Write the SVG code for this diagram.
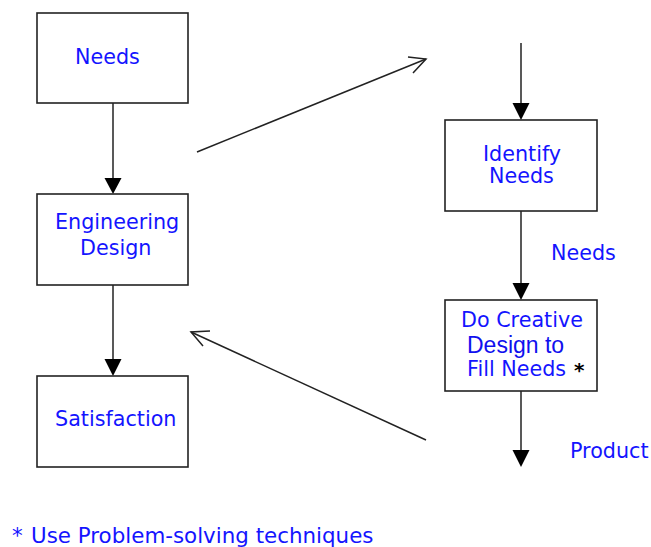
<svg xmlns="http://www.w3.org/2000/svg" width="651" height="547" viewBox="0 0 651 547">
<style>
.box{fill:#fff;stroke:#222;stroke-width:1.6}
.ln{fill:none;stroke:#222;stroke-width:1.5}
.hd{fill:#000;stroke:none}
.t{font-family:"DejaVu Sans",Verdana,sans-serif;font-size:20.7px;fill:#1414ff}
.f{font-size:21.4px}
.a{font-family:"Liberation Sans",Arial,sans-serif;font-size:23px;fill:#1010ee}
.k{font-family:"DejaVu Sans",Verdana,sans-serif;font-size:20px;font-weight:bold;fill:#000}
</style>
<rect width="651" height="547" fill="#fff"/>
<g id="connectors">
<line class="ln" x1="113" y1="103" x2="113" y2="180"/>
<polygon class="hd" points="104.5,178 121.5,178 113,194"/>
<line class="ln" x1="113" y1="285" x2="113" y2="361"/>
<polygon class="hd" points="104.5,359 121.5,359 113,376"/>
<line class="ln" x1="521" y1="43" x2="521" y2="105"/>
<polygon class="hd" points="512.5,103 529.5,103 521,120"/>
<line class="ln" x1="521" y1="211" x2="521" y2="285"/>
<polygon class="hd" points="512.5,283 529.5,283 521,300"/>
<line class="ln" x1="521" y1="391" x2="521" y2="452"/>
<polygon class="hd" points="512.5,450 529.5,450 521,467"/>
<line class="ln" x1="197" y1="152" x2="426" y2="59"/>
<polyline class="ln" points="408,57 426,59 413,73"/>
<line class="ln" x1="426" y1="440" x2="191" y2="332"/>
<polyline class="ln" points="210,331 191,332 203,346"/>
</g>
<g id="needs">
<rect class="box" x="37" y="13" width="151" height="90"/>
<text class="t" x="75" y="64">Needs</text>
</g>
<g id="engineering-design">
<rect class="box" x="37" y="194" width="151" height="91"/>
<text class="t" x="55" y="229">Engineering</text>
<text class="t" x="80" y="255">Design</text>
</g>
<g id="satisfaction">
<rect class="box" x="37" y="376" width="151" height="91"/>
<text class="t" x="55" y="426">Satisfaction</text>
</g>
<g id="identify-needs">
<rect class="box" x="445" y="120" width="152" height="91"/>
<text class="t" x="483" y="161">Identify</text>
<text class="t" x="489" y="183">Needs</text>
</g>
<g id="do-creative-design">
<rect class="box" x="445" y="300" width="152" height="91"/>
<text class="t" x="461" y="327">Do Creative</text>
<text class="a" x="467" y="353">Design to</text>
<text class="t" x="467" y="376">Fill Needs</text>
<text class="k" x="574" y="377">*</text>
</g>
<g id="labels">
<text class="t" x="551" y="260">Needs</text>
<text class="t" x="570" y="458">Product</text>
<text class="t f" x="12" y="543">*<tspan x="31">Use Problem-solving techniques</tspan></text>
</g>
</svg>
